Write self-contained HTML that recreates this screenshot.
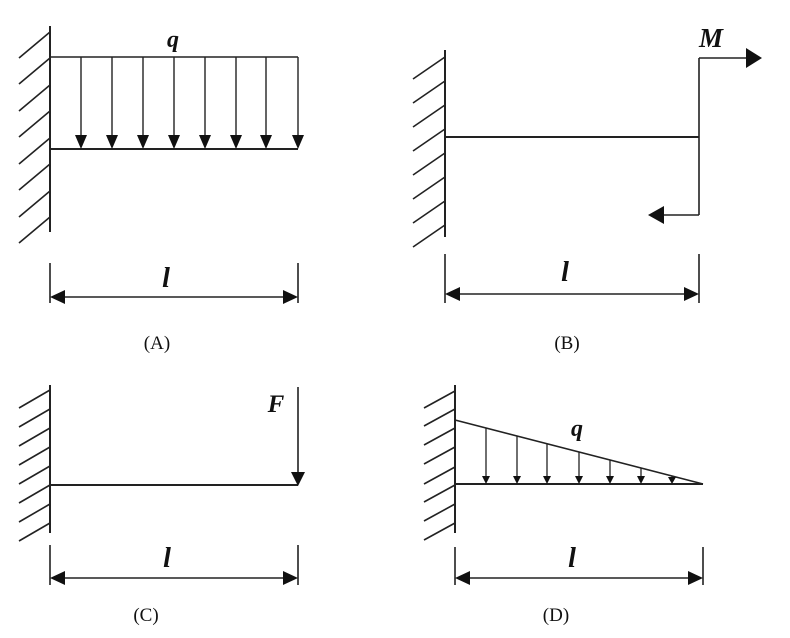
<!DOCTYPE html>
<html><head><meta charset="utf-8"><style>html,body{margin:0;padding:0;background:#fff}svg{display:block}</style></head><body>
<svg width="790" height="638" viewBox="0 0 790 638" xmlns="http://www.w3.org/2000/svg">
<g stroke="#222" stroke-width="2" fill="none">
<!-- A -->
<line x1="50" y1="26" x2="50" y2="232"/>
<path d="M50 32L19 58M50 58L19 84M50 85L19 111M50 111L19 137M50 138L19 164M50 164L19 190M50 191L19 217M50 217L19 243" stroke-width="1.6"/>
<line x1="50" y1="57" x2="298" y2="57" stroke-width="1.6"/>
<line x1="50" y1="149" x2="298" y2="149"/>
<path d="M81 57V140M112 57V140M143 57V140M174 57V140M205 57V140M236 57V140M266 57V140M298 57V140" stroke-width="1.4"/>
<path d="M50 263V303M298 263V303" stroke-width="1.6"/>
<line x1="58" y1="297" x2="290" y2="297" stroke-width="1.4"/>
<!-- B -->
<line x1="445" y1="50" x2="445" y2="237"/>
<path d="M445 57L413 79M445 81L413 103M445 105L413 127M445 129L413 151M445 153L413 175M445 177L413 199M445 201L413 223M445 225L413 247" stroke-width="1.6"/>
<line x1="445" y1="137" x2="699" y2="137"/>
<path d="M699 58V215M699 58H750M699 215H660" stroke-width="1.6"/>
<path d="M445 254V303M699 254V303" stroke-width="1.6"/>
<line x1="452" y1="294" x2="692" y2="294" stroke-width="1.4"/>
<!-- C -->
<line x1="50" y1="385" x2="50" y2="533"/>
<path d="M50 390L19 408M50 409L19 427M50 428L19 446M50 447L19 465M50 466L19 484M50 485L19 503M50 504L19 522M50 523L19 541" stroke-width="1.6"/>
<line x1="50" y1="485" x2="298" y2="485"/>
<path d="M298 387V475" stroke-width="1.6"/>
<path d="M50 545V585M298 545V585" stroke-width="1.6"/>
<line x1="57" y1="578" x2="291" y2="578" stroke-width="1.4"/>
<!-- D -->
<line x1="455" y1="385" x2="455" y2="533"/>
<path d="M455 391L424 408M455 409L424 426M455 428L424 445M455 447L424 464M455 467L424 484M455 485L424 502M455 504L424 521M455 523L424 540" stroke-width="1.6"/>
<line x1="455" y1="484" x2="703" y2="484"/>
<line x1="455" y1="420" x2="703" y2="484" stroke-width="1.6"/>
<path d="M486 428V478M517 436V478M547 444V478M579 452V478M610 460V478M641 468V478M672 476V478" stroke-width="1.3"/>
<path d="M455 547V585M703 547V585" stroke-width="1.6"/>
<line x1="462" y1="578" x2="696" y2="578" stroke-width="1.4"/>
</g>
<g fill="#111">
<path d="M75 135H87L81 149ZM106 135H118L112 149ZM137 135H149L143 149ZM168 135H180L174 149ZM199 135H211L205 149ZM230 135H242L236 149ZM260 135H272L266 149ZM292 135H304L298 149Z"/>
<path d="M50 297L65 290V304ZM298 297L283 290V304Z"/>
<path d="M762 58L746 48V68ZM648 215L664 206V224Z"/>
<path d="M445 294L460 287V301ZM699 294L684 287V301Z"/>
<path d="M291 472H305L298 486Z"/>
<path d="M50 578L65 571V585ZM298 578L283 571V585Z"/>
<path d="M482 476H490L486 484ZM513 476H521L517 484ZM543 476H551L547 484ZM575 476H583L579 484ZM606 476H614L610 484ZM637 476H645L641 484ZM668 477H676L672 484Z"/>
<path d="M455 578L470 571V585ZM703 578L688 571V585Z"/>
</g>
<g font-family="Liberation Serif, serif" font-style="italic" font-weight="bold" fill="#111" text-anchor="middle">
<text x="173" y="47" font-size="24">q</text>
<text x="166" y="287" font-size="28">l</text>
<text x="711" y="47" font-size="27">M</text>
<text x="565" y="281" font-size="28">l</text>
<text x="276" y="412" font-size="25">F</text>
<text x="167" y="567" font-size="28">l</text>
<text x="577" y="436" font-size="24">q</text>
<text x="572" y="567" font-size="28">l</text>
</g>
<g font-family="Liberation Serif, serif" fill="#111" text-anchor="middle" font-size="19">
<text x="157" y="349">(A)</text>
<text x="567" y="349">(B)</text>
<text x="146" y="621">(C)</text>
<text x="556" y="621">(D)</text>
</g>
</svg>
</body></html>
